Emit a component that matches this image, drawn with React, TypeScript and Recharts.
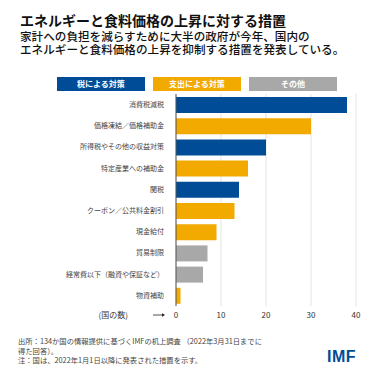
import React from "react";
import { Bar, BarChart, CartesianGrid, Cell, XAxis, YAxis } from "recharts";

const categories = [
  "消費税減税",
  "価格凍結／価格補助金",
  "所得税やその他の収益対策",
  "特定産業への補助金",
  "関税",
  "クーポン／公共料金割引",
  "現金給付",
  "貿易制限",
  "経常費以下（融資や保証など）",
  "物資補助",
];
const counts = [38, 30, 20, 16, 14, 13, 9, 7, 6, 1];
const groups = ["tax", "spend", "tax", "spend", "tax", "spend", "spend", "other", "other", "spend"];
const xTicks = [0, 10, 20, 30, 40];

const legendItems = [
  { key: "tax", label: "税による対策" },
  { key: "spend", label: "支出による対策" },
  { key: "other", label: "その他" },
];

const COLORS: Record<string, string> = {
  tax: "#004C97",
  spend: "#F2A900",
  other: "#A8A8A8",
};

const FONT = '"Noto Sans CJK JP", "Noto Sans", sans-serif';

const data = categories.map((name, i) => ({ name, value: counts[i], group: groups[i] }));

function XTick(props: any) {
  const { x, y, payload } = props;
  return (
    <g>
      <text x={x} y={y} dy={4} textAnchor="middle" fontSize={8} fill="#333" fontFamily={FONT}>
        {payload.value}
      </text>
      {payload.value === 0 && (
        <g>
          <text x={x - 48} y={y} dy={4} textAnchor="end" fontSize={8} fill="#333" fontFamily={FONT}>
            (国の数)
          </text>
          <line x1={x - 23} y1={y + 1} x2={x - 13} y2={y + 1} stroke="#222" strokeWidth={0.8} />
          <path d={`M${x - 11},${y + 1} L${x - 14},${y - 0.8} L${x - 14},${y + 2.8} Z`} fill="#222" />
        </g>
      )}
    </g>
  );
}

export default function App() {
  return (
    <div
      style={{
        position: "absolute",
        left: 0,
        top: 0,
        width: 378,
        height: 378,
        background: "#fff",
        fontFamily: FONT,
        overflow: "hidden",
      }}
    >
      <div style={{ position: "absolute", left: 20, top: 12, fontSize: 14, fontWeight: 700, lineHeight: "16px", color: "#111" }}>
        エネルギーと食料価格の上昇に対する措置
      </div>
      <div style={{ position: "absolute", left: 20, top: 30, fontSize: 11.6, fontWeight: 500, lineHeight: "12.5px", color: "#111" }}>
        家計への負担を減らすために大半の政府が今年、国内の
        <br />
        エネルギーと食料価格の上昇を抑制する措置を発表している。
      </div>

      {legendItems.map((item, i) => (
        <div
          key={item.key}
          style={{
            position: "absolute",
            left: 57 + i * 96,
            top: 77,
            width: 88,
            height: 14,
            background: COLORS[item.key],
            color: "#fff",
            fontSize: 8,
            fontWeight: 700,
            lineHeight: "14px",
            textAlign: "center",
          }}
        >
          {item.label}
        </div>
      ))}

      <div style={{ position: "absolute", left: 0, top: 0 }}>
        <BarChart
          width={378}
          height={378}
          data={data}
          layout="vertical"
          margin={{ top: 94, right: 22, bottom: 52, left: 0 }}
          barSize={16}
        >
          <CartesianGrid horizontal={false} stroke="#e3e3e3" />
          <XAxis
            type="number"
            domain={[0, 40]}
            ticks={xTicks}
            axisLine={false}
            tickLine={false}
            height={20}
            tick={<XTick />}
          />
          <YAxis
            type="category"
            dataKey="name"
            width={176}
            axisLine={{ stroke: "#555", strokeWidth: 1 }}
            tickLine={false}
            interval={0}
            tick={{ fontSize: 7, fill: "#444", fontFamily: FONT }}
            tickMargin={6}
          />
          <Bar dataKey="value" isAnimationActive={false}>
            {data.map((d, i) => (
              <Cell key={i} fill={COLORS[d.group]} />
            ))}
          </Bar>
        </BarChart>
      </div>

      <div style={{ position: "absolute", left: 18, top: 337, fontSize: 7.3, lineHeight: "9.5px", color: "#444" }}>
        出所：134か国の情報提供に基づくIMFの机上調査 （2022年3月31日までに
        <br />
        得た回答）。
        <br />
        注：国は、2022年1月1日以降に発表された措置を示す。
      </div>
      <div
        style={{
          position: "absolute",
          left: 327,
          top: 348,
          fontSize: 16,
          lineHeight: "18px",
          fontWeight: 900,
          color: "#004C97",
          fontFamily: '"Liberation Sans", Arial, sans-serif',
          letterSpacing: 0.5,
        }}
      >
        IMF
      </div>
    </div>
  );
}
